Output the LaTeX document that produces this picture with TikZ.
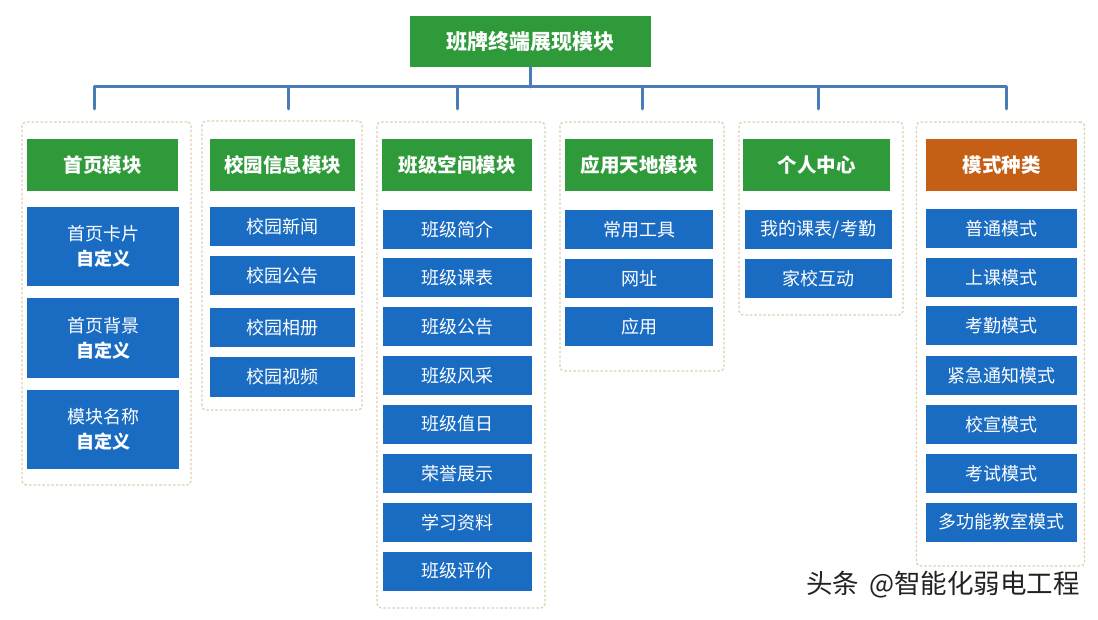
\documentclass[tikz,border=0pt]{standalone}
\usepackage{fontspec}
\setmainfont{Noto Sans CJK SC}
\definecolor{hgreen}{HTML}{2E9A3A}
\definecolor{iblue}{HTML}{1A6CC2}
\definecolor{horange}{HTML}{C65F16}
\definecolor{busblue}{HTML}{4A7CB6}
\definecolor{contline}{HTML}{DDD0AE}
\definecolor{wmark}{HTML}{222222}
\tikzset{
  rootbox/.style={fill=hgreen, text=white, minimum width=241pt, minimum height=51pt, inner sep=0pt, font=\fontsize{21}{24}\selectfont\bfseries},
  headbox/.style={fill=hgreen, text=white, minimum width=#1, minimum height=52pt, inner sep=0pt, font=\fontsize{19.5}{22}\selectfont\bfseries},
  modebox/.style={headbox=#1, fill=horange},
  itembox/.style={fill=iblue, text=white, minimum width=#1, minimum height=39pt, inner sep=0pt, font=\fontsize{18}{20}\selectfont},
  bigitem/.style={itembox=#1, minimum height=79pt, align=center, font=\fontsize{18}{25}\selectfont},
  contbox/.style={draw=contline, line width=1.3pt, dash pattern=on 2.5pt off 2pt, rounded corners=4pt, fill=white, inner sep=0pt},
  bus/.style={draw=busblue, line width=3pt, line join=round, line cap=round},
}
\begin{document}
\begin{tikzpicture}[x=1pt,y=-1pt]
\useasboundingbox[fill=white] (0,0) rectangle (1098,620);

% containers
\node[contbox, minimum width=169pt, minimum height=363pt] (c1) at (106.5,303.5) {};
\node[contbox, minimum width=160pt, minimum height=289pt] (c2) at (282,265.5) {};
\node[contbox, minimum width=168pt, minimum height=486pt] (c3) at (461,365) {};
\node[contbox, minimum width=164pt, minimum height=249pt] (c4) at (642,246.5) {};
\node[contbox, minimum width=164pt, minimum height=193pt] (c5) at (821,218.5) {};
\node[contbox, minimum width=168pt, minimum height=444pt] (c6) at (1000.5,344) {};

% root and bus
\node[rootbox] (root) at (530.5,41.5) {班牌终端展现模块};
\coordinate (j) at (530.5,87);
\coordinate (d1) at (94,109);
\coordinate (d2) at (288,109);
\coordinate (d3) at (457,109);
\coordinate (d4) at (642,109);
\coordinate (d5) at (818,109);
\coordinate (d6) at (1006,109);
\draw[bus] (root.south) -- (j);
\draw[bus] (d1) |- (j) -| (d6);
\foreach \d in {d2,d3,d4,d5} \draw[bus] (\d) -- (\d |- j);

% column 1
\node[headbox=151pt] (h1) at (102.5,165) {首页模块};
\node[bigitem=152pt] (a1) at (103,246.5) {首页卡片\\\textbf{自定义}};
\node[bigitem=152pt] (a2) at (103,338) {首页背景\\\textbf{自定义}};
\node[bigitem=152pt] (a3) at (103,429.5) {模块名称\\\textbf{自定义}};

% column 2
\node[headbox=145pt] (h2) at (282.5,165) {校园信息模块};
\node[itembox=145pt] (b1) at (282.5,226.5) {校园新闻};
\node[itembox=145pt] (b2) at (282.5,275.5) {校园公告};
\node[itembox=145pt] (b3) at (282.5,327.5) {校园相册};
\node[itembox=145pt] (b4) at (282.5,377) {校园视频};

% column 3
\node[headbox=150pt] (h3) at (457,165) {班级空间模块};
\node[itembox=149pt] (e1) at (457.5,229.5) {班级简介};
\node[itembox=149pt] (e2) at (457.5,278) {班级课表};
\node[itembox=149pt] (e3) at (457.5,326.5) {班级公告};
\node[itembox=149pt] (e4) at (457.5,375.5) {班级风采};
\node[itembox=149pt] (e5) at (457.5,424) {班级值日};
\node[itembox=149pt] (e6) at (457.5,473.5) {荣誉展示};
\node[itembox=149pt] (e7) at (457.5,522.5) {学习资料};
\node[itembox=149pt] (e8) at (457.5,571) {班级评价};

% column 4
\node[headbox=148pt] (h4) at (639,165) {应用天地模块};
\node[itembox=148pt] (f1) at (639,229.5) {常用工具};
\node[itembox=148pt] (f2) at (639,278.5) {网址};
\node[itembox=148pt] (f3) at (639,326.5) {应用};

% column 5
\node[headbox=147pt] (h5) at (816.5,165) {个人中心};
\node[itembox=147pt] (g1) at (818.5,229.5) {我的课表/考勤};
\node[itembox=147pt] (g2) at (818.5,278.5) {家校互动};

% column 6
\node[modebox=151pt] (h6) at (1001.5,165) {模式种类};
\node[itembox=151pt] (k1) at (1001.5,228.5) {普通模式};
\node[itembox=151pt] (k2) at (1001.5,277.5) {上课模式};
\node[itembox=151pt] (k3) at (1001.5,326) {考勤模式};
\node[itembox=151pt] (k4) at (1001.5,375.5) {紧急通知模式};
\node[itembox=151pt] (k5) at (1001.5,424.5) {校宣模式};
\node[itembox=151pt] (k6) at (1001.5,473.5) {考试模式};
\node[itembox=151pt] (k7) at (1001.5,522) {多功能教室模式};

% watermark
\node[text=wmark, font=\fontsize{26.5}{28}\selectfont, anchor=east, inner sep=0pt] (wm) at (1080,585) {头条\hspace{4pt} @智能化弱电工程};
\end{tikzpicture}
\end{document}
